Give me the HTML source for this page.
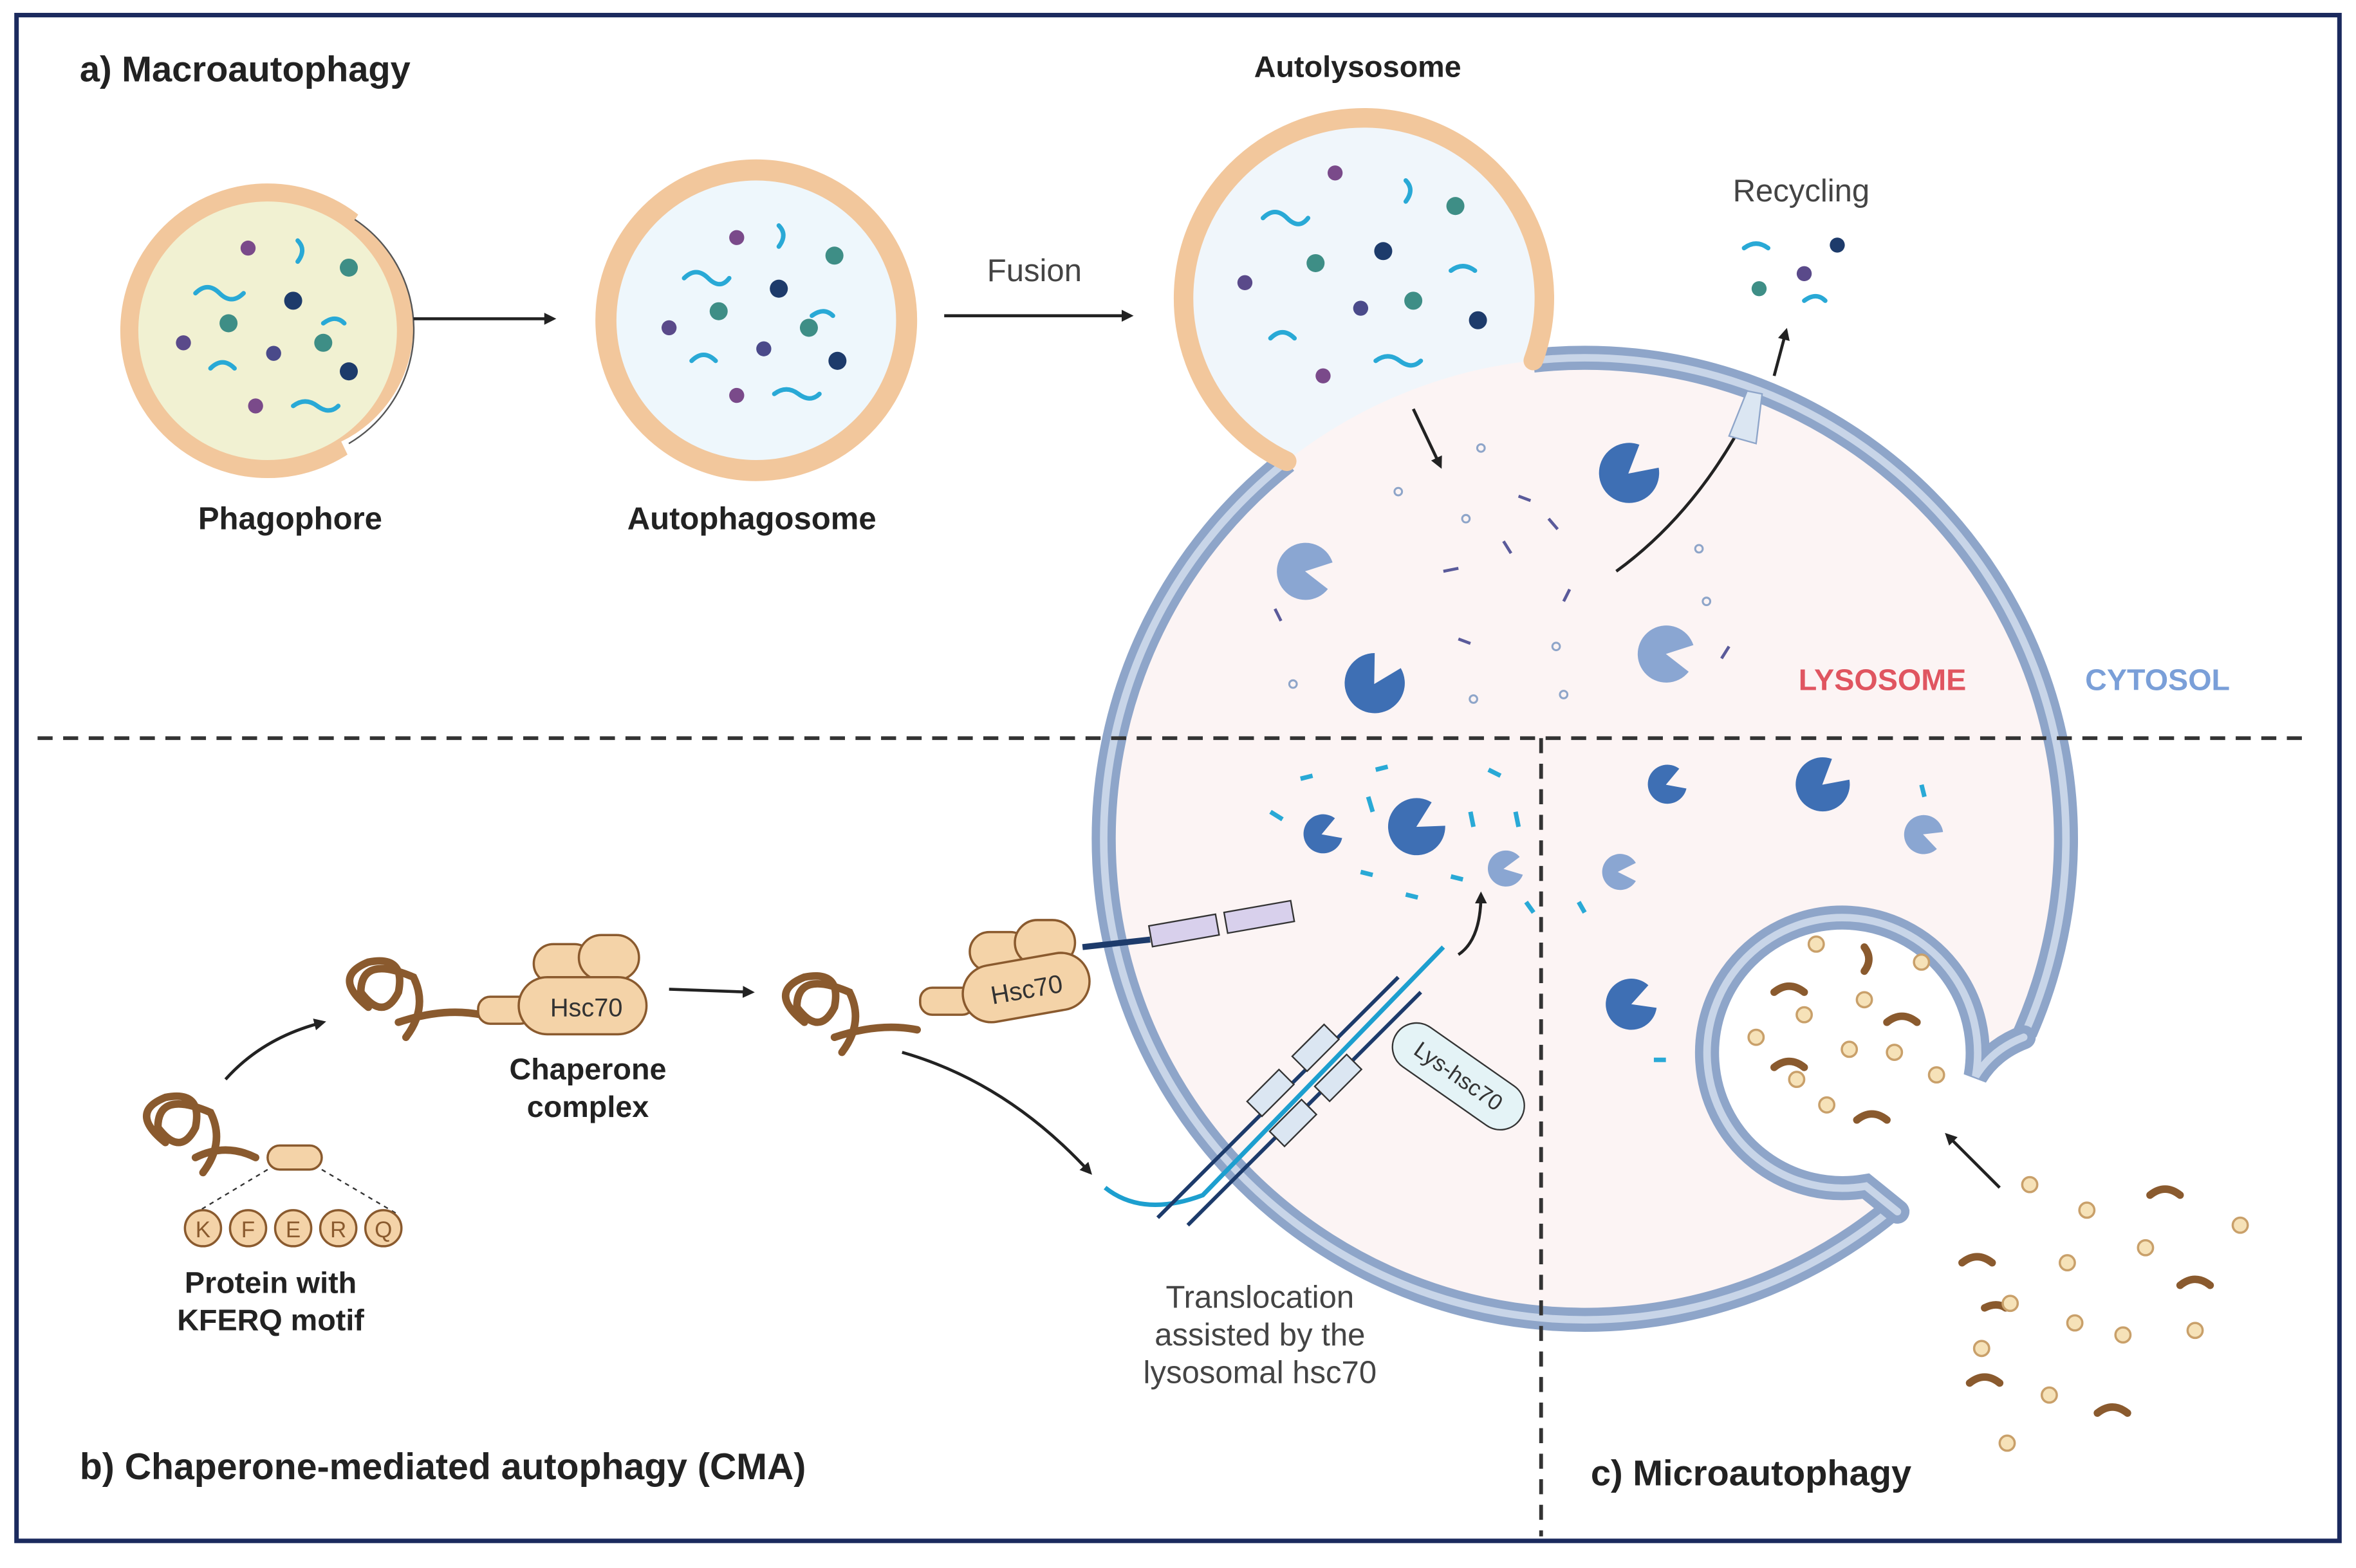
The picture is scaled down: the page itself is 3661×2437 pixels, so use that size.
<!DOCTYPE html>
<html><head><meta charset="utf-8"><style>
html,body{margin:0;padding:0;background:#fff}
svg{display:block}
text{font-family:"Liberation Sans",sans-serif}
</style></head><body>
<svg width="3661" height="2437" viewBox="0 0 1567 1043" xmlns="http://www.w3.org/2000/svg">
<defs>
<marker id="ah" markerWidth="8" markerHeight="8" refX="6" refY="4" orient="auto" markerUnits="userSpaceOnUse"><path d="M0,0 L8,4 L0,8 Z" fill="#222"/></marker>
</defs>
<rect x="0" y="0" width="1567" height="1043" fill="#fff"/>
<rect x="11" y="10" width="1545" height="1015" fill="#fff" stroke="#1b2a5e" stroke-width="3"/>

<!-- Autolysosome / lysosome -->
<circle cx="907" cy="198" r="120" fill="#f0f6fb"/>
<circle cx="1054" cy="558" r="320" fill="#fcf4f4"/>
<path d="M1019.8,239.8 A320,320 0 1,1 855.8,306.8" fill="none" stroke="#8ea5c9" stroke-width="16"/>
<path d="M1019.8,239.8 A320,320 0 1,1 855.8,306.8" fill="none" stroke="#c8d5e8" stroke-width="5"/>
<path d="M855.8,306.8 A120,120 0 1,1 1019.8,239.8" fill="none" stroke="#f2c79c" stroke-width="13" stroke-linecap="round"/>

<!-- invagination (microautophagy) -->
<path d="M1344,693 L1314,716 A90,90 0 1,0 1241,789 L1260,803 L1420,830 L1420,670 Z" fill="#fff"/>
<path d="M1346,690 Q1325,698 1314,716 A90,90 0 1,0 1241,789 L1262,806" fill="none" stroke="#8ea5c9" stroke-width="16" stroke-linecap="round"/>
<path d="M1346,690 Q1325,698 1314,716 A90,90 0 1,0 1241,789 L1262,806" fill="none" stroke="#c8d5e8" stroke-width="5" stroke-linecap="round"/>

<!-- dashed lines -->
<line x1="25" y1="491" x2="1535" y2="491" stroke="#333" stroke-width="2.5" stroke-dasharray="10,7"/>
<line x1="1025" y1="491" x2="1025" y2="1022" stroke="#333" stroke-width="2.5" stroke-dasharray="10,7"/>

<!-- Phagophore -->
<circle cx="178" cy="220" r="92" fill="#f1f1d2" stroke="#f2c79c" stroke-width="12"/>
<path d="M230,300 A92,92 0 0,0 240,140" fill="none" stroke="#fff" stroke-width="14"/>
<path d="M232,295 A88,88 0 0,0 236,146" fill="none" stroke="#555" stroke-width="1"/>
<!-- Autophagosome -->
<circle cx="503" cy="213" r="100" fill="#eef7fc" stroke="#f2c79c" stroke-width="14"/>

<g fill="none" stroke="#29a9d6" stroke-width="3" stroke-linecap="round">
<path d="M130,195 q8,-8 16,0 q8,8 16,0"/><path d="M140,245 q8,-8 16,0"/><path d="M195,270 q8,-6 16,0 q8,6 14,0"/><path d="M215,215 q8,-6 14,0"/><path d="M198,160 q6,6 0,14"/>
<path d="M455,185 q8,-8 16,0 q8,8 14,0"/><path d="M460,240 q8,-8 16,0"/><path d="M515,262 q8,-6 16,0 q8,6 14,0"/><path d="M540,210 q8,-6 14,0"/><path d="M518,150 q6,6 0,14"/>
<path d="M840,145 q8,-8 16,0 q8,8 14,0"/><path d="M935,120 q6,6 0,14"/><path d="M965,180 q8,-6 16,0"/><path d="M845,225 q8,-8 16,0"/><path d="M915,240 q8,-6 16,0 q8,6 14,0"/>
<path d="M1160,165 q8,-6 16,0"/><path d="M1200,200 q8,-6 14,0"/>
</g>
<g>
<circle cx="165" cy="165" r="5" fill="#7a4a8a"/><circle cx="232" cy="178" r="6" fill="#3e8e86"/><circle cx="195" cy="200" r="6" fill="#1d3b6b"/><circle cx="152" cy="215" r="6" fill="#3e8e86"/><circle cx="122" cy="228" r="5" fill="#5a4a8a"/><circle cx="182" cy="235" r="5" fill="#4a4a8a"/><circle cx="215" cy="228" r="6" fill="#3e8e86"/><circle cx="232" cy="247" r="6" fill="#1d3b6b"/><circle cx="170" cy="270" r="5" fill="#7a4a8a"/>
<circle cx="490" cy="158" r="5" fill="#7a4a8a"/><circle cx="555" cy="170" r="6" fill="#3e8e86"/><circle cx="518" cy="192" r="6" fill="#1d3b6b"/><circle cx="478" cy="207" r="6" fill="#3e8e86"/><circle cx="445" cy="218" r="5" fill="#5a4a8a"/><circle cx="508" cy="232" r="5" fill="#4a4a8a"/><circle cx="538" cy="218" r="6" fill="#3e8e86"/><circle cx="557" cy="240" r="6" fill="#1d3b6b"/><circle cx="490" cy="263" r="5" fill="#7a4a8a"/>
<circle cx="888" cy="115" r="5" fill="#7a4a8a"/><circle cx="968" cy="137" r="6" fill="#3e8e86"/><circle cx="920" cy="167" r="6" fill="#1d3b6b"/><circle cx="875" cy="175" r="6" fill="#3e8e86"/><circle cx="828" cy="188" r="5" fill="#5a4a8a"/><circle cx="905" cy="205" r="5" fill="#4a4a8a"/><circle cx="940" cy="200" r="6" fill="#3e8e86"/><circle cx="983" cy="213" r="6" fill="#1d3b6b"/><circle cx="880" cy="250" r="5" fill="#7a4a8a"/>
<circle cx="1222" cy="163" r="5" fill="#1d3b6b"/><circle cx="1200" cy="182" r="5" fill="#5a4a8a"/><circle cx="1170" cy="192" r="5" fill="#3e8e86"/>
</g>

<!-- arrows -->
<g stroke="#222" stroke-width="2" fill="none" marker-end="url(#ah)">
<line x1="275" y1="212" x2="368" y2="212"/>
<line x1="628" y1="210" x2="752" y2="210"/>
<line x1="940" y1="272" x2="958" y2="310"/>
<path d="M1075,380 Q1130,340 1165,270"/>
<line x1="1180" y1="250" x2="1188" y2="220"/>
<path d="M150,718 Q175,690 215,680"/>
<line x1="445" y1="658" x2="500" y2="660"/>
<path d="M600,700 Q670,720 725,780"/>
<path d="M970,635 Q985,625 985,595"/>
<line x1="1330" y1="790" x2="1295" y2="755"/>
</g>
<path d="M1150,290 L1162,260 L1172,262 L1168,295 Z" fill="#dbe6f2" stroke="#8ea5c9"/>

<!-- enzymes (pacman) -->
<g fill="#3e6fb4">
<path d="M1083,315 l18,-10 a20,20 0 1,0 0,20 z" transform="rotate(-40 1083 315)"/>
<path d="M914,455 l18,-10 a20,20 0 1,0 0,20 z" transform="rotate(-60 914 455)"/>
<path d="M942,550 l17,-9 a19,19 0 1,0 0,18 z" transform="rotate(-30 942 550)"/>
<path d="M879,555 l12,-7 a13,13 0 1,0 0,14 z" transform="rotate(-20 879 555)"/>
<path d="M1108,522 l12,-7 a13,13 0 1,0 0,14 z" transform="rotate(-20 1108 522)"/>
<path d="M1212,522 l16,-9 a18,18 0 1,0 0,18 z" transform="rotate(-40 1212 522)"/>
<path d="M1085,668 l15,-8 a17,17 0 1,0 0,16 z" transform="rotate(-20 1085 668)"/>
</g>
<g fill="#8aa6d2">
<path d="M868,380 l17,-9 a19,19 0 1,0 0,18 z" transform="rotate(10 868 380)"/>
<path d="M1108,435 l17,-9 a19,19 0 1,0 0,18 z" transform="rotate(10 1108 435)"/>
<path d="M1000,578 l12,-6 a12,12 0 1,0 0,12 z" transform="rotate(-10 1000 578)"/>
<path d="M1076,580 l12,-6 a12,12 0 1,0 0,12 z"/>
<path d="M1279,555 l12,-6 a13,13 0 1,0 0,12 z" transform="rotate(20 1279 555)"/>
</g>
<!-- debris -->
<g stroke="#5a5a9a" stroke-width="2">
<line x1="1000" y1="360" x2="1005" y2="368"/><line x1="960" y1="380" x2="970" y2="378"/><line x1="1030" y1="345" x2="1036" y2="352"/><line x1="1040" y1="400" x2="1044" y2="392"/><line x1="970" y1="425" x2="978" y2="428"/><line x1="848" y1="405" x2="852" y2="413"/><line x1="1150" y1="430" x2="1145" y2="438"/><line x1="1010" y1="330" x2="1018" y2="333"/>
</g>
<g fill="none" stroke="#8ea5c9" stroke-width="1.3">
<circle cx="985" cy="298" r="2.5"/><circle cx="930" cy="327" r="2.5"/><circle cx="975" cy="345" r="2.5"/><circle cx="1130" cy="365" r="2.5"/><circle cx="1135" cy="400" r="2.5"/><circle cx="860" cy="455" r="2.5"/><circle cx="980" cy="465" r="2.5"/><circle cx="1040" cy="462" r="2.5"/><circle cx="1035" cy="430" r="2.5"/>
</g>
<g stroke="#29a9d6" stroke-width="3">
<line x1="845" y1="540" x2="853" y2="545"/><line x1="865" y1="518" x2="873" y2="516"/><line x1="910" y1="530" x2="913" y2="540"/><line x1="915" y1="512" x2="923" y2="510"/><line x1="978" y1="540" x2="980" y2="550"/><line x1="990" y1="512" x2="998" y2="516"/><line x1="1008" y1="540" x2="1010" y2="550"/><line x1="905" y1="580" x2="913" y2="582"/><line x1="935" y1="595" x2="943" y2="597"/><line x1="965" y1="583" x2="973" y2="585"/><line x1="1015" y1="600" x2="1020" y2="607"/><line x1="1278" y1="522" x2="1280" y2="530"/><line x1="1050" y1="600" x2="1054" y2="607"/><line x1="1100" y1="705" x2="1108" y2="705"/>
</g>

<!-- CMA channel -->
<path d="M735,790 Q760,810 800,795 L960,630" fill="none" stroke="#1d9fcf" stroke-width="3"/>
<path d="M770,810 L930,650" stroke="#1d3b6b" stroke-width="2.5"/>
<path d="M790,815 L945,660" stroke="#1d3b6b" stroke-width="2.5"/>
<g fill="#dbe6f2" stroke="#333" stroke-width="1">
<rect x="830" y="720" width="30" height="14" transform="rotate(-45 845 727)"/>
<rect x="860" y="690" width="30" height="14" transform="rotate(-45 875 697)"/>
<rect x="845" y="740" width="30" height="14" transform="rotate(-45 860 747)"/>
<rect x="875" y="710" width="30" height="14" transform="rotate(-45 890 717)"/>
</g>
<rect x="920" y="700" width="100" height="32" rx="16" fill="#e4f3f6" stroke="#333" transform="rotate(35 970 716)"/>
<text x="970" y="721" font-size="15" text-anchor="middle" transform="rotate(35 970 716)" fill="#333">Lys-hsc70</text>
<path d="M720,630 L765,625" stroke="#1d3b6b" stroke-width="4"/>
<rect x="765" y="612" width="45" height="14" fill="#d8d0ec" stroke="#333" transform="rotate(-10 787 619)"/>
<rect x="815" y="603" width="45" height="14" fill="#d8d0ec" stroke="#333" transform="rotate(-10 837 610)"/>

<!-- proteins / hsc70 -->
<g fill="none" stroke="#8a5a2e" stroke-width="5" stroke-linecap="round">
<path d="M110,760 q-25,-20 0,-30 q25,-5 20,20 q-10,20 -25,0 q0,-25 35,-10 q10,20 -5,40 M130,770 q20,-10 40,0"/>
<path d="M245,670 q-25,-20 0,-30 q25,-5 20,20 q-10,20 -25,0 q0,-25 35,-10 q10,20 -5,40 M265,680 q30,-10 55,-5"/>
<path d="M535,680 q-25,-20 0,-30 q25,-5 20,20 q-10,20 -25,0 q0,-25 35,-10 q10,20 -5,40 M555,690 q30,-10 55,-5"/>
<path d="M1180,660 q10,-8 20,0 M1240,630 q6,8 0,16 M1255,680 q10,-8 20,0 M1180,710 q10,-8 20,0 M1235,745 q10,-8 20,0"/>
<path d="M1305,840 q10,-8 20,0 M1430,795 q10,-8 20,0 M1450,855 q10,-8 20,0 M1310,920 q10,-8 20,0 M1395,940 q10,-8 20,0 M1320,870 q8,-4 14,0"/>
</g>
<g fill="#f4d3a8" stroke="#8a5a2e" stroke-width="1.5">
<rect x="178" y="762" width="36" height="16" rx="8"/>
<rect x="318" y="663" width="36" height="18" rx="8"/>
<rect x="355" y="628" width="40" height="26" rx="13"/><rect x="385" y="622" width="40" height="30" rx="15"/>
<rect x="345" y="650" width="85" height="38" rx="19"/>
<rect x="612" y="657" width="36" height="18" rx="8"/>
<rect x="645" y="620" width="40" height="26" rx="13"/><rect x="675" y="612" width="40" height="30" rx="15"/>
<rect x="640" y="638" width="85" height="38" rx="19" transform="rotate(-10 682 657)"/>
</g>
<text x="390" y="676" font-size="17" text-anchor="middle" fill="#333">Hsc70</text>
<text x="683" y="664" font-size="17" text-anchor="middle" fill="#333" transform="rotate(-10 683 659)">Hsc70</text>
<g stroke="#333" stroke-dasharray="3,3"><line x1="178" y1="778" x2="128" y2="808"/><line x1="214" y1="778" x2="265" y2="808"/></g>
<g fill="#f4d3a8" stroke="#8a5a2e" stroke-width="1.5">
<circle cx="135" cy="817" r="12"/><circle cx="165" cy="817" r="12"/><circle cx="195" cy="817" r="12"/><circle cx="225" cy="817" r="12"/><circle cx="255" cy="817" r="12"/>
</g>
<g font-size="15" text-anchor="middle" fill="#8a5a2e"><text x="135" y="823">K</text><text x="165" y="823">F</text><text x="195" y="823">E</text><text x="225" y="823">R</text><text x="255" y="823">Q</text></g>
<g fill="#f6e2b8" stroke="#c9a06a" stroke-width="1.5">
<circle cx="1208" cy="628" r="5"/><circle cx="1278" cy="640" r="5"/><circle cx="1240" cy="665" r="5"/><circle cx="1200" cy="675" r="5"/><circle cx="1168" cy="690" r="5"/><circle cx="1230" cy="698" r="5"/><circle cx="1260" cy="700" r="5"/><circle cx="1288" cy="715" r="5"/><circle cx="1215" cy="735" r="5"/><circle cx="1195" cy="718" r="5"/>
<circle cx="1350" cy="788" r="5"/><circle cx="1388" cy="805" r="5"/><circle cx="1490" cy="815" r="5"/><circle cx="1427" cy="830" r="5"/><circle cx="1375" cy="840" r="5"/><circle cx="1337" cy="867" r="5"/><circle cx="1380" cy="880" r="5"/><circle cx="1412" cy="888" r="5"/><circle cx="1460" cy="885" r="5"/><circle cx="1318" cy="897" r="5"/><circle cx="1363" cy="928" r="5"/><circle cx="1335" cy="960" r="5"/>
</g>

<!-- labels -->
<g fill="#222" font-weight="bold">
<text x="53" y="54" font-size="24">a) Macroautophagy</text>
<text x="903" y="51" font-size="20" text-anchor="middle">Autolysosome</text>
<text x="193" y="352" font-size="21" text-anchor="middle">Phagophore</text>
<text x="500" y="352" font-size="21" text-anchor="middle">Autophagosome</text>
<text x="391" y="718" font-size="20" text-anchor="middle">Chaperone</text>
<text x="391" y="743" font-size="20" text-anchor="middle">complex</text>
<text x="180" y="860" font-size="20" text-anchor="middle">Protein with</text>
<text x="180" y="885" font-size="20" text-anchor="middle">KFERQ motif</text>
<text x="53" y="984" font-size="24.5">b) Chaperone-mediated autophagy (CMA)</text>
<text x="1058" y="988" font-size="24">c) Microautophagy</text>
</g>
<g fill="#444" font-size="21" text-anchor="middle">
<text x="688" y="187">Fusion</text>
<text x="1198" y="134">Recycling</text>
<text x="838" y="870">Translocation</text>
<text x="838" y="895">assisted by the</text>
<text x="838" y="920">lysosomal hsc70</text>
</g>
<text x="1252" y="459" font-size="20" font-weight="bold" fill="#e05560" text-anchor="middle">LYSOSOME</text>
<text x="1435" y="459" font-size="20" font-weight="bold" fill="#7a9fd8" text-anchor="middle">CYTOSOL</text>
</svg>
</body></html>
